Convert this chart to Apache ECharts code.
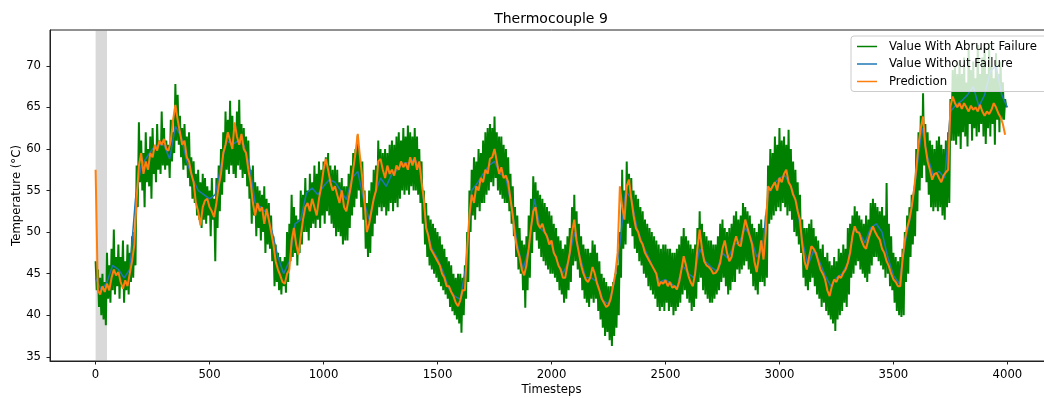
<!DOCTYPE html>
<html lang="en">
<head>
<meta charset="UTF-8">
<title>Thermocouple 9</title>
<style type="text/css">
    html, body { margin: 0; padding: 0; background: #fff; overflow: hidden; }
    #main { width: 1060px; height: 398px; }
</style>
<script src="https://cdn.jsdelivr.net/npm/echarts@6/dist/echarts.min.js"></script>
</head>
<body>
<div id="main"></div>
<script type="text/javascript">
// green sampled every 5 timesteps, orange every 10, blue every 25
var FAIL_STEP = 5;
var PRED_STEP = 10;
var TRUE_STEP = 25;

var failValues = [
    46.5, 43, 45.5, 41, 44.5, 40, 45, 39.5, 44, 38.8, 47.5, 42, 46, 41.5, 48, 43, 50.3, 42.5, 47, 43.5,            // 0
    48.5, 42, 47, 43.5, 49, 41.5, 46.5, 43, 48.5, 42.5, 47.5, 44, 49.5, 44.5, 50, 46, 58, 53, 63.2, 56,            // 100
    61, 55, 59.5, 53, 62, 56, 60, 55.5, 61.5, 54, 62.5, 57, 60, 56, 63, 57.5, 61, 57, 64.5, 58,                    // 200
    62.5, 57.5, 61, 58, 60.5, 56.5, 63.5, 58.5, 62, 59.5, 67.8, 61, 66.5, 60.5, 64, 59, 62.5, 57.5, 63, 58,        // 300
    61.5, 56.5, 62, 55.5, 59, 54, 58.5, 53.5, 57, 52, 57.5, 51.5, 56, 50.5, 57, 51.5, 56.5, 51, 55.5, 52,          // 400
    55, 49.5, 56.5, 51.5, 54, 46.5, 56.5, 50.5, 58, 52.5, 60, 54.5, 62, 56, 64.5, 57.5, 63.5, 57, 65.8, 58,        // 500
    64, 57, 62.5, 56.5, 64.5, 58, 65.9, 57.5, 63, 56.5, 62.5, 57, 61.5, 55.5, 61, 54, 57.5, 51, 58, 52,            // 600
    56, 49.5, 55.5, 50.5, 55, 49, 54.5, 50, 55.5, 47.5, 54, 48.5, 53.5, 48, 52, 46.5, 49.5, 43.5, 48.5, 44,        // 700
    47.5, 43, 47, 42.5, 46.5, 43.5, 47, 42.7, 50, 44, 51, 46.5, 54.5, 47, 53, 47.5, 52, 46, 51.5, 47.5,            // 800
    55, 48.5, 54.5, 50, 56.5, 50, 55, 49, 57, 50.5, 56, 51, 58, 50.5, 57, 51.5, 58.5, 50.5, 57.5, 52,              // 900
    58.5, 51, 59, 52.5, 59.5, 52, 58, 51, 57.5, 50.5, 58, 49.5, 57.5, 50, 56, 49.5, 56.5, 48.5, 55.5, 49,          // 1000
    55.5, 49, 57, 50.5, 58, 52, 59.5, 53, 60, 54, 61.6, 55, 59, 53, 58.5, 51.5, 55, 48, 53.5, 47,                  // 1100
    55, 47.5, 56, 49.5, 57.5, 51, 58, 52, 61, 53, 60, 52.5, 59.5, 53, 60, 52, 59.5, 52.5, 60.5, 53.5,              // 1200
    61, 52.5, 60.5, 53.5, 61.5, 53, 62, 54, 61, 55, 62.5, 54.5, 61.5, 55, 62.8, 54.5, 62, 55.5, 61.5, 55,          // 1300
    62.5, 55, 61.5, 54.5, 60, 53.5, 58.5, 51, 55, 48.5, 53.5, 47, 52, 46, 51.5, 45.5, 51, 45, 50.5, 44.5,          // 1400
    50, 44, 49.5, 43.5, 48.5, 43, 48, 42.5, 47, 42, 46.5, 41, 46, 40.5, 45, 40, 44.5, 39.5, 45, 39,                // 1500
    45, 37.9, 44.5, 40, 46, 42, 50, 44, 55, 50, 57.5, 52, 59, 51.5, 58.5, 53, 60, 52.5, 59.5, 53.5,                // 1600
    61, 53.5, 62, 54.5, 62.5, 55, 63, 56, 62.5, 55.5, 63.9, 56.5, 62, 55, 61.5, 54.5, 61.5, 54, 60.5, 53.5,        // 1700
    60, 53.5, 59, 52.5, 57, 51, 55.5, 49.5, 53, 47, 52, 45.5, 50.5, 45, 49, 43, 48.5, 40.9, 49.5, 43,              // 1800
    52, 44.5, 54, 47.5, 56.7, 50, 56, 49, 55, 48, 54.5, 47, 54, 46.5, 53.5, 46, 53, 45.5, 52.5, 45,                // 1900
    52, 45, 51, 44.5, 50.5, 44, 49.5, 43, 49, 42.5, 48, 41.5, 48.5, 42, 49.5, 43, 50.5, 44, 53, 46,                // 2000
    54.5, 46.5, 52.5, 45.5, 51, 44.5, 49.5, 43, 48.5, 42, 48, 41.5, 48, 41, 47.5, 42, 49, 41.5, 48.5, 42,          // 2100
    47.5, 40.5, 46.5, 39.5, 45, 38.5, 44.5, 37.5, 44, 38, 43.5, 37, 43.5, 36.3, 44, 37.5, 45, 38.5, 46, 40,        // 2200
    50, 44.5, 57.5, 48, 55, 48.5, 58.5, 51, 57, 50.5, 56.5, 49.5, 55, 48, 54.5, 47.5, 54, 46.5, 53, 46,            // 2300
    52.5, 45, 51.5, 44.5, 51, 43.5, 50.5, 43, 50, 42.5, 49.5, 42, 49, 41, 48.5, 40.5, 48, 41, 48.5, 40.5,          // 2400
    48.5, 41.5, 48, 40.5, 48, 41, 47.5, 40, 47.5, 40.5, 48, 41, 48.5, 41.5, 49.5, 42.5, 50.5, 43, 49.5, 42,        // 2500
    49, 41.5, 48.5, 40.5, 48, 41, 48.5, 42, 50.5, 44, 52.5, 44.5, 51, 43, 50, 42.5, 49.5, 42, 49, 41.5,            // 2600
    49, 41.5, 48.5, 42, 48.5, 42.5, 49.5, 43, 51, 44, 51.5, 44.5, 50.5, 43.5, 50, 42.5, 50.5, 43, 51, 44,          // 2700
    52, 44, 52.5, 45.5, 51.5, 45, 52, 45.5, 53.5, 46, 53, 46.5, 52.5, 45.5, 52, 45, 51, 43.5, 50.5, 43,            // 2800
    50, 42.5, 51, 44, 51.5, 44, 50.5, 43.5, 52, 44.5, 58, 51, 60, 51.5, 59.5, 52, 61.5, 52.5, 60.5, 53,            // 2900
    62.5, 52.5, 61, 53.5, 61.5, 53, 60.5, 52, 62.3, 52.5, 60, 51.5, 58.5, 50, 57.5, 49.5, 56, 48.5, 54.5, 47.5,    // 3000
    51.5, 44.5, 50.5, 43.5, 50.5, 43, 51, 44, 51.5, 44.5, 50.5, 43.5, 49.5, 42.5, 49, 42, 48, 41, 48.5, 41.5,      // 3100
    47, 40.5, 47.5, 40, 46.5, 39.5, 46, 39, 47, 38.1, 46.5, 39.5, 48, 40, 47.5, 40.5, 48.5, 41.5, 48, 41,          // 3200
    50.5, 42.5, 51, 44.5, 52, 45, 53.1, 46, 52.5, 46.5, 52, 45.5, 51.5, 45, 51, 44.5, 52, 44, 51.5, 45,            // 3300
    53.5, 46, 54, 47, 53.5, 47, 53, 46.5, 52.5, 46, 53, 45.5, 52, 44.5, 55.9, 45, 51, 43.5, 49.5, 43,              // 3400
    47.5, 41.5, 47, 40.5, 46.5, 40, 47, 39.8, 48, 40, 50, 44, 52, 45, 53, 47, 54.5, 48.5, 55, 49.5,                // 3500
    60, 52.5, 62, 55, 64, 56.5, 66.7, 58, 63, 56, 62, 54.5, 61, 53, 60.5, 52.5, 60, 53, 61, 52.5,                  // 3600
    61.5, 53, 60.5, 52, 60, 51.5, 61, 53, 62, 53.5, 66, 61, 69.5, 61, 70, 60.5, 69, 61.5, 70.5, 60,                // 3700
    69, 62, 71, 61.5, 68, 60.3, 72, 63, 69.5, 61, 70.5, 62.5, 68.5, 61.5, 72.5, 62, 69, 63, 71, 61.5,              // 3800
    72.5, 60.6, 69, 62.5, 72.7, 61.5, 70, 63, 68.5, 60.5, 71.5, 63.5, 69, 62, 70.5, 63.5, 68, 63.5, 66, 65         // 3900
];

var trueValues = [
    44.5, 43.0, 44.0, 46.0, 45.5, 44.5, 45.5, 54.0,   // 0
    58.0, 59.0, 60.0, 60.5, 60.5, 58.8, 62.7, 61.5,   // 200
    58.5, 56.5, 55.0, 54.5, 54.0, 54.5, 58.0, 61.0,   // 400
    60.5, 61.0, 60.5, 58.0, 53.5, 53.0, 52.3, 50.0,   // 600
    47.0, 45.0, 46.5, 51.0, 51.5, 54.7, 55.3, 54.5,   // 800
    55.5, 56.3, 56.0, 55.0, 53.9, 56.5, 57.3, 54.0,   // 1000
    51.5, 54.5, 56.5, 55.5, 57.0, 57.5, 58.3, 58.3,   // 1200
    58.8, 57.5, 50.7, 48.0, 46.8, 45.2, 43.2, 42.3,   // 1400
    41.9, 46.0, 55.0, 55.9, 57.0, 58.0, 58.5, 57.0,   // 1600
    56.5, 53.0, 48.5, 45.5, 48.0, 54.0, 50.5, 49.8,   // 1800
    48.4, 46.5, 45.0, 46.5, 50.0, 47.0, 44.5, 44.5,   // 2000
    44.0, 41.8, 41.3, 44.0, 48.5, 55.0, 54.0, 50.5,   // 2200
    48.5, 47.0, 45.5, 44.0, 44.3, 43.8, 43.3, 46.0,   // 2400
    45.0, 44.5, 48.0, 46.5, 45.8, 45.3, 47.5, 46.8,   // 2600
    48.5, 48.8, 50.5, 49.3, 47.0, 48.0, 54.5, 55.8,   // 2800
    56.5, 56.8, 55.5, 53.5, 49.0, 46.0, 47.8, 46.5,   // 3000
    44.8, 43.5, 44.5, 45.0, 46.3, 50.2, 50.0, 48.7,   // 3200
    50.5, 51.0, 50.0, 47.0, 44.8, 43.8, 48.5, 52.0,   // 3400
    57.0, 62.5, 59.0, 56.8, 57.3, 56.5, 64.5, 65.3,   // 3600
    65.8, 66.5, 67.5, 65.1, 66.5, 69.3, 70.0, 66.5,   // 3800
    65.0                                              // 4000
];

var predValues = [
    57.5, 43.0, 42.5, 43.5, 42.8, 43.8, 43.0, 44.5, 45.5, 44.8,   // 0
    45.2, 44.0, 43.2, 44.2, 43.5, 45.0, 46.5, 48.5, 54.0, 58.0,   // 100
    59.5, 57.0, 58.5, 57.5, 59.5, 59.0, 60.5, 59.8, 61.0, 60.5,   // 200
    61.2, 60.0, 59.8, 61.0, 63.5, 65.3, 63.5, 62.0, 60.5, 61.0,   // 300
    59.0, 58.5, 57.0, 56.0, 53.5, 52.5, 50.8, 53.0, 53.8, 54.0,   // 400
    53.0, 52.5, 51.8, 53.5, 55.5, 57.0, 59.5, 60.5, 62.0, 61.0,   // 500
    60.0, 63.2, 61.5, 60.5, 61.8, 60.0, 59.5, 57.5, 56.0, 53.5,   // 600
    52.0, 53.5, 52.5, 53.0, 51.0, 52.8, 51.5, 50.0, 48.5, 46.5,   // 700
    45.5, 44.8, 44.0, 43.8, 45.0, 45.5, 49.0, 50.5, 48.5, 47.3,   // 800
    49.5, 51.5, 53.0, 53.5, 52.5, 54.0, 53.0, 52.0, 54.0, 55.5,   // 900
    57.5, 58.8, 57.5, 56.0, 55.0, 55.5, 54.5, 53.5, 55.0, 53.0,   // 1000
    52.5, 54.0, 55.5, 57.5, 59.5, 61.8, 59.0, 56.5, 53.5, 50.0,   // 1100
    51.0, 52.5, 54.0, 55.0, 58.5, 58.8, 57.5, 56.5, 58.0, 57.0,   // 1200
    57.5, 56.8, 58.0, 57.5, 58.5, 57.8, 58.3, 57.5, 59.0, 58.0,   // 1300
    59.0, 57.5, 58.5, 56.0, 54.0, 50.5, 49.5, 48.0, 47.5, 47.0,   // 1400
    46.5, 46.0, 45.0, 44.5, 43.5, 43.5, 42.8, 42.3, 41.5, 41.1,   // 1500
    41.8, 43.0, 43.0, 48.0, 52.0, 54.5, 53.5, 55.5, 55.0, 56.5,   // 1600
    56.0, 57.5, 57.0, 58.8, 59.0, 60.0, 58.5, 57.0, 57.8, 56.5,   // 1700
    56.8, 56.0, 54.0, 52.0, 49.5, 48.0, 47.0, 45.5, 44.8, 46.0,   // 1800
    48.0, 50.5, 52.5, 53.0, 51.0, 50.5, 51.0, 50.0, 49.5, 48.5,   // 1900
    49.0, 47.5, 47.0, 46.0, 45.5, 44.5, 44.5, 46.0, 47.5, 50.0,   // 2000
    51.5, 49.0, 47.5, 46.0, 45.0, 44.3, 44.0, 44.5, 45.8, 45.0,   // 2100
    43.8, 43.0, 42.0, 41.5, 41.0, 41.2, 42.0, 43.5, 45.0, 47.5,   // 2200
    55.5, 53.0, 51.5, 55.5, 56.3, 54.0, 52.0, 50.5, 50.0, 49.0,   // 2300
    48.5, 47.5, 47.0, 46.5, 46.0, 45.5, 45.0, 43.5, 44.0, 43.8,   // 2400
    44.2, 43.5, 44.0, 43.3, 43.5, 43.1, 44.0, 45.5, 47.1, 46.0,   // 2500
    44.8, 44.0, 43.5, 45.0, 48.0, 50.3, 48.0, 46.5, 46.0, 45.8,   // 2600
    45.5, 45.0, 45.1, 45.5, 46.3, 48.0, 49.0, 47.5, 46.5, 47.0,   // 2700
    48.5, 49.5, 48.5, 48.3, 50.0, 51.5, 50.5, 49.5, 48.5, 46.5,   // 2800
    45.2, 47.0, 49.0, 46.7, 50.0, 55.5, 55.0, 55.5, 56.0, 55.0,   // 2900
    56.5, 56.0, 57.0, 57.5, 56.0, 55.5, 54.5, 53.9, 52.5, 51.5,   // 3000
    48.5, 46.5, 45.5, 47.0, 48.3, 48.0, 47.5, 46.5, 45.5, 45.0,   // 3100
    44.3, 43.0, 42.3, 43.5, 44.3, 44.0, 44.7, 44.5, 45.1, 45.5,   // 3200
    46.3, 47.5, 49.5, 50.7, 50.0, 49.9, 49.0, 48.3, 48.0, 49.1,   // 3300
    50.0, 50.7, 50.0, 49.5, 49.1, 48.0, 47.5, 46.5, 45.9, 45.0,   // 3400
    44.3, 44.0, 43.5, 43.5, 46.7, 49.0, 50.5, 51.5, 53.0, 55.0,   // 3500
    57.5, 60.5, 62.5, 63.9, 60.3, 58.5, 57.5, 56.3, 57.0, 57.1,   // 3600
    56.5, 56.0, 56.8, 57.2, 57.5, 65.1, 66.3, 65.5, 65.0, 65.5,   // 3700
    64.8, 65.5, 65.0, 64.5, 65.2, 64.7, 65.0, 64.5, 65.3, 64.5,   // 3800
    64.0, 64.5, 64.2, 64.7, 65.5, 65.0, 64.3, 63.8, 63.0, 61.7    // 3900
];

var xTicks = [0, 500, 1000, 1500, 2000, 2500, 3000, 3500, 4000];
var yTicks = [35, 40, 45, 50, 55, 60, 65, 70];
var failureSpan = [0, 50];

var names = ['Value With Abrupt Failure', 'Value Without Failure', 'Prediction'];

function pairs(step, vals) {
    return vals.map(function (v, i) { return [i * step, v]; });
}

var font = 'DejaVu Sans';
var ink = '#000';
var spine = '#222';

var myChart = echarts.init(document.getElementById('main'), null, { renderer: 'canvas' });

var option = {
    animation: false,
    backgroundColor: '#fff',
    title: {
        text: 'Thermocouple 9',
        left: 551, top: 12, padding: 0,
        textAlign: 'center',
        textStyle: { fontFamily: font, fontSize: 14, fontWeight: 'normal', color: ink }
    },
    legend: {
        data: names,
        orient: 'vertical',
        left: 851, top: 36,
        padding: [4.5, 20, 4, 6],
        icon: 'rect',
        itemWidth: 20, itemHeight: 1.5, itemGap: 5.5,
        backgroundColor: 'rgba(255,255,255,0.8)',
        borderColor: '#cccccc', borderWidth: 1, borderRadius: 3,
        textStyle: { fontFamily: font, fontSize: 11.7, color: ink, padding: [0, 0, 0, 7] }
    },
    grid: {
        left: 50, top: 30, width: 1003, height: 331,
        outerBoundsMode: 'none', containLabel: false,
        show: true, borderColor: spine, borderWidth: 1, backgroundColor: 'transparent'
    },
    xAxis: {
        type: 'value', min: -200, max: 4200,
        name: 'Timesteps', nameLocation: 'middle', nameGap: 23, nameMoveOverlap: false,
        nameTextStyle: { fontFamily: font, fontSize: 11.7, color: ink },
        axisLine: { show: true, onZero: false, lineStyle: { color: spine, width: 1 } },
        axisTick: { show: true, length: 3.5, customValues: xTicks, lineStyle: { color: spine } },
        axisLabel: {
            customValues: xTicks, margin: 8, fontFamily: font, fontSize: 11.7, color: ink,
            formatter: function (v) { return String(v); }
        },
        splitLine: { show: false }
    },
    yAxis: {
        type: 'value', min: 34.5, max: 74.3,
        name: 'Temperature (°C)', nameLocation: 'middle', nameGap: 27, nameRotate: 90,
        nameMoveOverlap: false,
        nameTextStyle: { fontFamily: font, fontSize: 11.7, color: ink },
        axisLine: { show: true, onZero: false, lineStyle: { color: spine, width: 1 } },
        axisTick: { show: true, length: 3.5, customValues: yTicks, lineStyle: { color: spine } },
        axisLabel: {
            customValues: yTicks, margin: 9, fontFamily: font, fontSize: 11.7, color: ink,
            formatter: function (v) { return String(v); }
        },
        splitLine: { show: false }
    },
    series: [
        {
            name: names[0], type: 'line', symbol: 'none', z: 2,
            data: pairs(FAIL_STEP, failValues),
            lineStyle: { color: '#008000', width: 2 },
            itemStyle: { color: '#008000' },
            markArea: {
                silent: true,
                itemStyle: { color: 'rgba(128,128,128,0.3)' },
                data: [[{ xAxis: failureSpan[0] }, { xAxis: failureSpan[1] }]]
            }
        },
        {
            name: names[1], type: 'line', symbol: 'none', z: 3,
            data: pairs(TRUE_STEP, trueValues),
            lineStyle: { color: '#1f77b4', width: 1.5 },
            itemStyle: { color: '#1f77b4' }
        },
        {
            name: names[2], type: 'line', symbol: 'none', z: 3,
            data: pairs(PRED_STEP, predValues),
            lineStyle: { color: '#ff7f0e', width: 2 },
            itemStyle: { color: '#ff7f0e' }
        }
    ]
};

myChart.setOption(option);
</script>
</body>
</html>
